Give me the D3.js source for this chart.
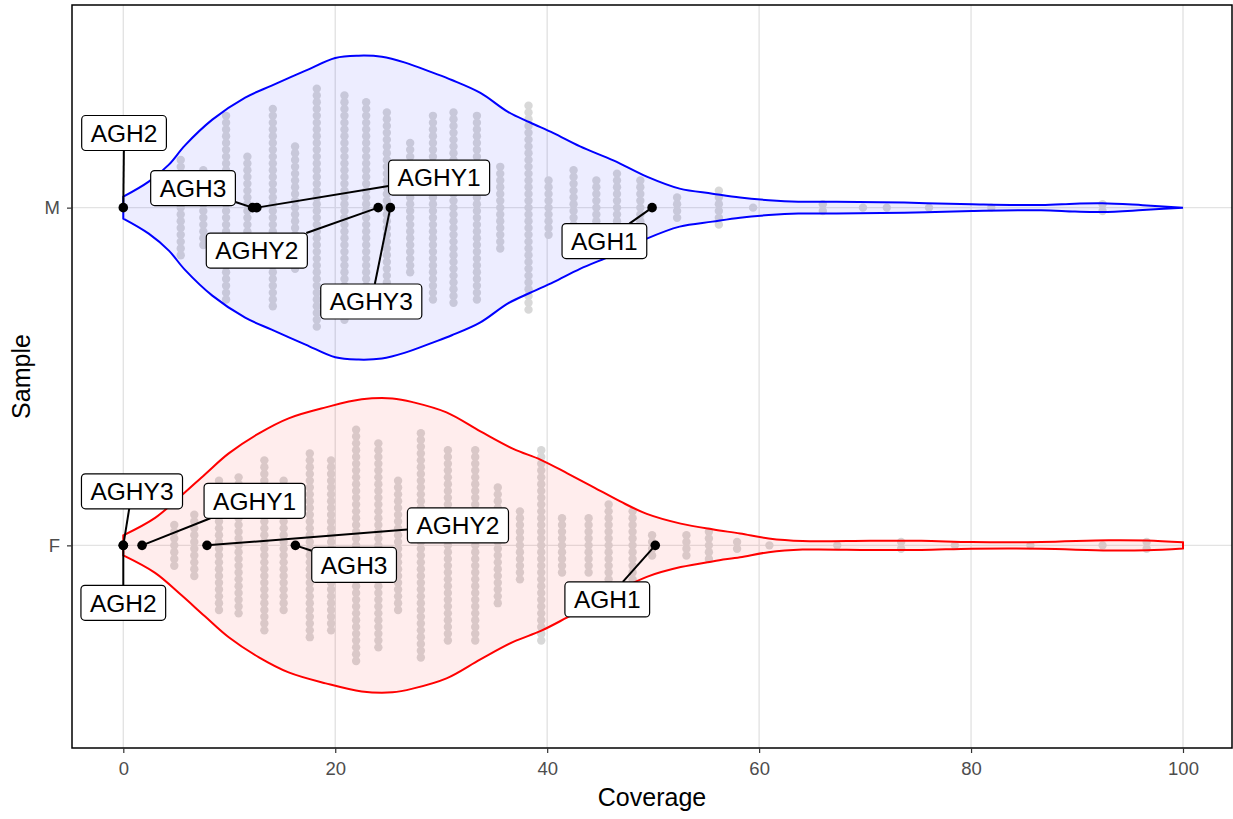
<!DOCTYPE html>
<html><head><meta charset="utf-8">
<script src="https://cdn.jsdelivr.net/npm/d3@7"></script>
<style>
body{margin:0;background:#fff}
svg{display:block}
text{font-family:"Liberation Sans",Arial,sans-serif}
</style>
</head><body>
<svg id="chart" width="1233" height="819"></svg>
<script>
// ---------------- DATA ----------------
const samples = ["F", "M"];
const xTicks = [0, 20, 40, 60, 80, 100];

// dot-plot bins (coverage) and stack counts
const mBinCoverage = [5.42,7.55,9.70,11.71,14.11,16.21,18.26,20.87,22.92,24.87,27.07,29.22,31.16,33.37,35.57,38.24,40.13,42.49,44.64,46.59,48.79,52.26,56.20,59.43,66.01,69.80,72.05,76.03,81.91,92.41];
const mCounts      = [15,12,28,16,30,19,36,34,32,29,20,28,29,28,13,31,9,12,9,11,9,4,6,1,2,1,1,1,1,2];
const fBinCoverage = [4.81,6.70,9.03,10.88,13.31,15.13,17.60,19.61,21.97,24.07,25.93,28.08,30.63,33.21,35.34,37.43,39.44,41.40,43.91,45.80,48.06,49.90,53.14,55.26,57.92,60.97,67.37,73.40,78.47,85.60,92.41,96.57];
const fCounts      = [7,10,20,21,26,20,28,26,35,31,20,34,29,29,18,11,29,9,9,13,11,4,4,5,2,1,1,2,1,1,1,2];

// violin outlines (coverage, relative half width)
const mViolinCoverage = [0,2.4,4.3,5.8,8.4,11.5,14.0,17.2,20.0,22.2,24.4,26.6,29.2,31.0,33.7,36.3,38.4,40.6,43.1,46.3,49.4,52.5,55.6,58.2,60.9,63.7,67.3,73.7,80.1,86.6,89.8,92.4,96.2,100];
const mViolinWidth    = [0.072,0.171,0.283,0.408,0.579,0.724,0.803,0.901,0.985,1.0,0.993,0.954,0.888,0.84,0.755,0.63,0.56,0.49,0.403,0.309,0.204,0.125,0.092,0.066,0.049,0.039,0.039,0.033,0.022,0.017,0.026,0.029,0.016,0.0];
const fViolinCoverage = [0,3.0,5.5,7.7,9.95,12.8,15.6,19.1,22.5,25.4,27.4,30.5,33.7,36.8,39.4,41.9,44.4,46.9,49.4,52.6,55.7,58.2,60.9,64.1,70.5,75.3,80.1,86.6,93.0,96.6,100];
const fViolinWidth    = [0.066,0.181,0.329,0.467,0.605,0.737,0.836,0.908,0.961,0.967,0.941,0.875,0.75,0.635,0.563,0.474,0.382,0.289,0.207,0.143,0.104,0.078,0.045,0.028,0.03,0.03,0.022,0.022,0.034,0.032,0.02];

// highlighted samples
const mLabelNames    = ["AGH2","AGH3","AGHY1","AGHY2","AGHY3","AGH1"];
const mLabelCoverage = [0, 12.2, 12.6, 24.05, 25.2, 49.9];
const fLabelNames    = ["AGHY3","AGH2","AGHY1","AGHY2","AGH3","AGH1"];
const fLabelCoverage = [0, 0, 1.77, 7.9, 16.24, 50.2];

// ---------------- LAYOUT (label placement as produced by repel) ----------------
const mLabelPlace = [[0.07,0.221],[6.58,0.058],[29.8,0.089],[12.6,-0.127],[23.4,-0.278],[45.4,-0.099]];
const fLabelPlace = [[0.82,0.160],[0.0,-0.170],[12.39,0.132],[31.58,0.059],[21.78,-0.058],[45.67,-0.160]];

// ---------------- CHART ----------------
const svg = d3.select("#chart");
const P = {left:72, right:1232, top:5, bottom:748};
const x = d3.scaleLinear().domain([0,100]).range([123.3,1183]);
const y = d3.scaleLinear().domain([0.4,2.6]).range([P.bottom,P.top]);
const cat = d3.scaleOrdinal().domain(samples).range([1,2]);
const halfW = 0.45;
const dotStep = 6.8, dotR = 4.2;

// grid
const grid = svg.append("g");
grid.selectAll("line.gx").data(xTicks).join("line")
  .attr("x1", d=>x(d)).attr("x2", d=>x(d)).attr("y1", P.top).attr("y2", P.bottom)
  .attr("stroke", "#e3e3e3").attr("stroke-width", 1.4);
grid.selectAll("line.gy").data(samples).join("line")
  .attr("x1", P.left).attr("x2", P.right).attr("y1", d=>y(cat(d))).attr("y2", d=>y(cat(d)))
  .attr("stroke", "#e3e3e3").attr("stroke-width", 1.4);

const groups = [
  {key:"M", color:"blue", fill:"rgba(0,0,255,0.07)", vc:mViolinCoverage, vw:mViolinWidth, bins:mBinCoverage, counts:mCounts, names:mLabelNames, lc:mLabelCoverage, place:mLabelPlace},
  {key:"F", color:"red", fill:"rgba(255,0,0,0.07)", vc:fViolinCoverage, vw:fViolinWidth, bins:fBinCoverage, counts:fCounts, names:fLabelNames, lc:fLabelCoverage, place:fLabelPlace}
];

groups.forEach(g => {
  const c = cat(g.key);
  const pts = g.vc.map((v,i)=>({c:v, w:g.vw[i]}));
  const area = d3.area().curve(d3.curveCatmullRom.alpha(0.5))
    .x(d=>x(d.c)).y0(d=>y(c - d.w*halfW)).y1(d=>y(c + d.w*halfW));
  // dots
  const dots = [];
  g.bins.forEach((b,i)=>{
    const n = g.counts[i];
    for (let k=0;k<n;k++) dots.push({cx:x(b), cy:y(c) + (k-(n-1)/2)*dotStep});
  });
  svg.append("g").selectAll("circle").data(dots).join("circle")
    .attr("cx", d=>d.cx).attr("cy", d=>d.cy).attr("r", dotR)
    .attr("fill", "#d8d8d8");
  svg.append("path").datum(pts).attr("d", area).attr("fill", g.fill).attr("stroke","none");
  svg.append("path").datum(pts).attr("d", area).attr("fill", "none")
    .attr("stroke", g.color).attr("stroke-width", 2);
});

// labels
const segLayer = svg.append("g");
const ptLayer = svg.append("g");
const boxLayer = svg.append("g");
groups.forEach(g => {
  const c = cat(g.key);
  g.names.forEach((name,i)=>{
    const px = x(g.lc[i]), py = y(c);
    const cx = x(g.place[i][0]), cy = y(c + g.place[i][1]);
    const lg = boxLayer.append("g");
    const rect = lg.append("rect");
    const t = lg.append("text").text(name).attr("font-size", 24.5)
      .attr("x", cx).attr("y", cy).attr("text-anchor","middle").attr("dy","0.36em").attr("fill","#000");
    const tw = t.node().getComputedTextLength();
    const bw = tw + 18, bh = 35;
    rect.attr("x", cx-bw/2).attr("y", cy-bh/2).attr("width", bw).attr("height", bh)
      .attr("rx",4).attr("fill","#fff").attr("stroke","#000").attr("stroke-width",1.2);
    const vx = px - cx, vy = py - cy;
    const s = Math.min(vx===0?Infinity:(bw/2)/Math.abs(vx), vy===0?Infinity:(bh/2)/Math.abs(vy));
    if (s < 1) {
      segLayer.append("line").attr("x1", px).attr("y1", py).attr("x2", cx + vx*s).attr("y2", cy + vy*s)
        .attr("stroke","#000").attr("stroke-width",2);
    }
    ptLayer.append("circle").attr("cx",px).attr("cy",py).attr("r",4.8).attr("fill","#000");
  });
});

// panel border
svg.append("rect").attr("x",P.left).attr("y",P.top).attr("width",P.right-P.left).attr("height",P.bottom-P.top)
  .attr("fill","none").attr("stroke","#000").attr("stroke-width",1.5);

// axes
const xa = svg.append("g").attr("transform",`translate(0,${P.bottom})`)
  .call(d3.axisBottom(x).tickValues(xTicks).tickSize(5).tickPadding(9));
const ya = svg.append("g").attr("transform",`translate(${P.left},0)`)
  .call(d3.axisLeft(y).tickValues(samples.map(s=>cat(s))).tickFormat((d,i)=>samples[i]).tickSize(5).tickPadding(7));
[xa,ya].forEach(a=>{
  a.select(".domain").remove();
  a.selectAll(".tick line").attr("stroke","#333").attr("stroke-width",1.2);
  a.selectAll(".tick text").attr("fill","#4d4d4d").attr("font-size",18.5)
    .attr("font-family","'Liberation Sans',Arial,sans-serif");
});

svg.append("text").text("Coverage").attr("x",(P.left+P.right)/2).attr("y",806)
  .attr("text-anchor","middle").attr("font-size",25).attr("fill","#000");
svg.append("text").text("Sample").attr("transform",`translate(30,${(P.top+P.bottom)/2}) rotate(-90)`)
  .attr("text-anchor","middle").attr("font-size",25).attr("fill","#000");
</script>
</body></html>
